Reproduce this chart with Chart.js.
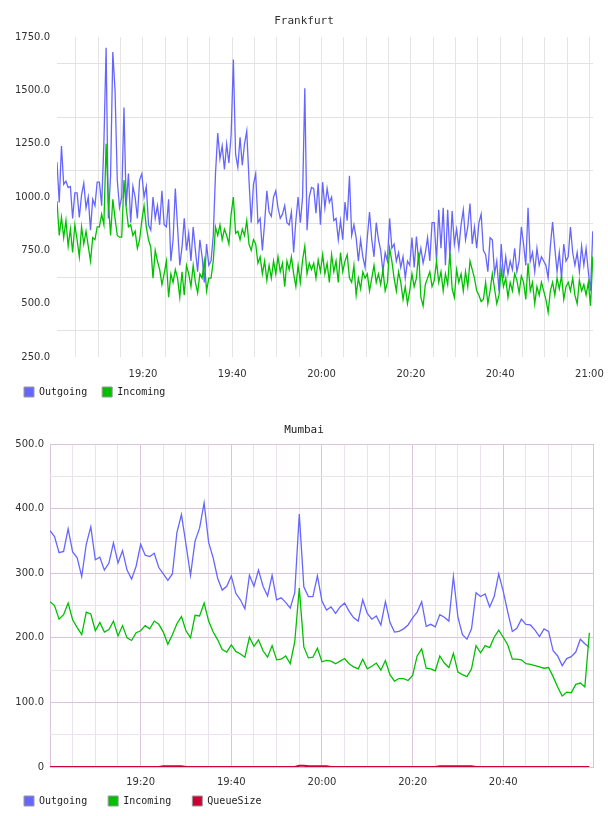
<!DOCTYPE html>
<html lang="en">
<head>
<meta charset="UTF-8">
<title>Frankfurt / Mumbai traffic</title>
<script src="https://cdn.jsdelivr.net/npm/chart.js"></script>
<style>
    body {
        margin: 0;
        background: #fff;
        overflow: hidden;
    }
    .box {
        position: absolute;
        left: 0;
        width: 608px;
    }
    #frankBox { top: 0; height: 415px; }
    #mumbaiBox { top: 408px; height: 421px; }
</style>
</head>
<body>
<div id="frankBox" class="box"><canvas id="frankChart" width="608" height="415"></canvas></div>
<div id="mumbaiBox" class="box"><canvas id="mumbaiChart" width="608" height="421"></canvas></div>

<script>
    // Frankfurt: one sample every 30 s, first one at 19:00:45
    const frankStart = 0.75;
    const frankStep = 0.5;
    const frankOut = [
        1164, 975, 1240, 1060, 1075, 1045, 1050, 900, 1020,
        1020, 905, 1010, 1065, 950, 1000, 845, 990, 960, 1070,
        1070, 960, 1250, 1700, 900, 1100, 1680, 1500, 1080, 950,
        1000, 1420, 960, 1110, 880, 1050, 1000, 900, 1080, 1110,
        1000, 1050, 870, 845, 1000, 900, 960, 870, 1030, 870,
        860, 990, 700, 800, 1040, 860, 680, 765, 900, 750,
        830, 700, 860, 750, 650, 800, 720, 600, 780, 680,
        700, 820, 1110, 1300, 1180, 1240, 1130, 1250, 1160, 1290,
        1645, 1200, 1140, 1280, 1150, 1250, 1310, 1080, 880, 1060,
        1110, 880, 900, 750, 880, 1030, 930, 910, 1000, 1030,
        950, 900, 920, 960, 880, 870, 930, 740, 890, 1000,
        880, 1000, 1510, 845, 1000, 1045, 1040, 925, 1065, 870,
        1070, 950, 1040, 975, 1000, 890, 900, 800, 890, 800,
        977, 890, 1100, 820, 870, 810, 700, 800, 720, 670,
        810, 930, 800, 720, 880, 800, 750, 650, 740, 700,
        900, 760, 780, 700, 740, 670, 720, 620, 700, 680,
        810, 670, 815, 700, 760, 690, 740, 810, 700, 880,
        880, 700, 940, 760, 950, 680, 940, 720, 935, 780,
        850, 760, 870, 940, 800, 860, 970, 780, 860, 760,
        880, 920, 750, 730, 650, 810, 800, 640, 700, 560,
        780, 620, 720, 640, 700, 660, 760, 650, 700, 860,
        780, 680, 950, 700, 740, 650, 760, 680, 720, 700,
        680, 620, 770, 883, 760, 650, 740, 620, 780, 700,
        720, 860, 740, 680, 740, 650, 770, 680, 760, 650,
        560, 840
    ];
    const frankIn = [
        980, 820, 905, 810, 890, 770, 850, 740, 870,
        800, 720, 860, 780, 840, 770, 700, 810, 800, 860,
        860, 920, 870, 1250, 980, 820, 990, 900, 820, 812,
        812, 1080, 950, 860, 870, 820, 840, 760, 800, 890,
        960, 860, 800, 765, 620, 750, 700, 660, 590, 640,
        700, 530, 640, 600, 660, 620, 530, 650, 540, 680,
        640, 580, 680, 600, 550, 640, 620, 700, 560, 620,
        620, 700, 860, 820, 870, 800, 850, 820, 780, 920,
        1000, 830, 840, 800, 850, 820, 890, 780, 750, 800,
        780, 690, 720, 640, 700, 610, 680, 620, 700, 640,
        720, 650, 690, 580, 700, 660, 720, 640, 580, 680,
        600, 705, 770, 640, 690, 660, 690, 620, 705, 650,
        730, 640, 690, 600, 730, 650, 700, 600, 740, 650,
        700, 730, 620, 600, 680, 540, 620, 570, 650, 620,
        640, 560, 620, 680, 600, 640, 590, 660, 560, 600,
        760, 700, 620, 560, 650, 600, 520, 580, 500, 560,
        640, 580, 620, 740, 530, 490, 590, 620, 650, 580,
        610, 700, 600, 650, 560, 640, 590, 740, 570, 530,
        660, 600, 640, 560, 650, 580, 700, 660, 620, 560,
        540, 510, 520, 600, 500, 560, 640, 570, 500, 540,
        660, 580, 620, 530, 600, 560, 640, 610, 550, 630,
        600, 520, 690, 560, 600, 500, 580, 540, 600, 560,
        520, 460, 560, 600, 540, 620, 570, 630, 520, 580,
        600, 560, 620, 540, 500, 610, 560, 590, 540, 600,
        490, 720
    ];

    // Mumbai: one sample per minute from 19:00
    const mumbaiOut = [
        366, 357, 332, 334, 369, 333, 324, 295, 345, 372,
        321, 325, 305, 316, 347, 316, 335, 305, 291, 311,
        345, 328, 326, 331, 309, 299, 289, 299, 363, 391,
        345, 297, 350, 370, 409, 348, 324, 292, 274, 280,
        296, 269, 259, 245, 297, 280, 305, 280, 265, 297,
        259, 262, 255, 246, 270, 392, 279, 264, 264, 296,
        257, 243, 248, 238, 248, 254, 241, 231, 226, 259,
        238, 229, 234, 220, 256, 224, 209, 210, 214, 220,
        231, 240, 256, 218, 221, 217, 236, 232, 226, 295,
        232, 205, 198, 214, 270, 264, 268, 248, 264, 299,
        272, 240, 210, 215, 229, 221, 220, 212, 202, 214,
        210, 180, 172, 157, 168, 171, 178, 198, 191, 185
    ];
    const mumbaiIn = [
        256, 250, 229, 236, 254, 228, 216, 205, 240, 237,
        211, 224, 209, 213, 226, 203, 219, 200, 196, 208,
        211, 219, 214, 226, 221, 209, 190, 205, 222, 233,
        211, 200, 235, 234, 254, 226, 209, 197, 182, 178,
        189, 179, 175, 170, 201, 187, 197, 180, 170, 188,
        166, 167, 172, 160, 194, 277, 186, 169, 170, 184,
        163, 165, 164, 160, 164, 168, 160, 155, 152, 167,
        152, 156, 161, 150, 165, 143, 133, 137, 137, 134,
        142, 172, 183, 153, 152, 149, 172, 161, 154, 176,
        147, 143, 140, 152, 188, 177, 188, 185, 201, 212,
        201, 189, 167, 167, 166, 160, 159, 157, 155, 153,
        154, 140, 124, 110, 116, 115, 128, 130, 124, 208
    ];
    const mumbaiQueue = [
        0, 0, 0, 0, 0, 0, 0, 0, 0, 0,
        0, 0, 0, 0, 0, 0, 0, 0, 0, 0,
        0, 0, 0, 0, 0, 1, 1, 1, 1, 1,
        0, 0, 0, 0, 0, 0, 0, 0, 0, 0,
        0, 0, 0, 0, 0, 0, 0, 0, 0, 0,
        0, 0, 0, 0, 0, 2, 2, 1, 1, 1,
        1, 1, 0, 0, 0, 0, 0, 0, 0, 0,
        0, 0, 0, 0, 0, 0, 0, 0, 0, 0,
        0, 0, 0, 0, 0, 0, 1, 1, 1, 1,
        1, 1, 1, 1, 0, 0, 0, 0, 0, 0,
        0, 0, 0, 0, 0, 0, 0, 0, 0, 0,
        0, 0, 0, 0, 0, 0, 0, 0, 0, 0
    ];

    // axes: minutes after 19:00
    const gridMinutes = [0, 5, 10, 15, 20, 25, 30, 35, 40, 45, 50, 55, 60, 65, 70, 75, 80, 85, 90, 95, 100, 105, 110, 115, 120];
    const labelMinutes = [20, 40, 60, 80, 100, 120];
    const timeLabels = ['19:20', '19:40', '20:00', '20:20', '20:40', '21:00'];
    const frankYTicks = [250, 375, 500, 625, 750, 875, 1000, 1125, 1250, 1375, 1500, 1625, 1750];
    const mumbaiYTicks = [0, 50, 100, 150, 200, 250, 300, 350, 400, 450, 500];

    const colors = { out: '#6666ff', in: '#00c000', queue: '#cc0033' };
    const tickFont = { family: 'DejaVu Sans', size: 10 };
    const monoFont = { family: 'DejaVu Sans Mono', size: 10 };

    function timeLabel(value) {
        const i = labelMinutes.indexOf(value);
        return i >= 0 ? timeLabels[i] : '';
    }

    function legendLabels(chart) {
        return chart.data.datasets.map((ds, i) => ({
            text: ds.label,
            fillStyle: ds.borderColor,
            strokeStyle: '#999',
            lineWidth: 1,
            fontColor: '#222',
            datasetIndex: i,
            hidden: false
        }));
    }

    function series(values, times) {
        return values.map((v, i) => ({ x: times[i], y: v }));
    }

    // fixed axis size, and no extra room for a label hanging over the edge
    function fixHeight(h) {
        return axis => {
            axis.height = h;
            axis.paddingLeft = 0;
            axis.paddingRight = 0;
        };
    }

    // move the legend box a little after layout (it sits tight under the time labels)
    const legendShift = {
        id: 'legendShift',
        afterLayout(chart, args, opts) {
            const lg = chart.legend;
            if (!lg) return;
            lg.left += opts.x || 0;
            lg.right += opts.x || 0;
            lg.top += opts.y || 0;
            lg.bottom += opts.y || 0;
        }
    };

    Chart.defaults.font.family = 'DejaVu Sans';
    Chart.defaults.color = '#333';

    const frankTimes = frankOut.map((_, i) => frankStart + i * frankStep);
    const mumbaiTimes = mumbaiOut.map((_, i) => i);

    new Chart(document.getElementById('frankChart'), {
        type: 'line',
        plugins: [legendShift],
        data: {
            datasets: [
                { label: 'Outgoing', data: series(frankOut, frankTimes), borderColor: colors.out, borderWidth: 1.3, pointRadius: 0, order: 2 },
                { label: 'Incoming', data: series(frankIn, frankTimes), borderColor: colors.in, borderWidth: 1.3, pointRadius: 0, order: 1 }
            ]
        },
        options: {
            responsive: false,
            animation: false,
            layout: { autoPadding: false, padding: 0 },
            plugins: {
                title: {
                    display: true,
                    text: 'Frankfurt',
                    color: '#333',
                    font: { family: 'DejaVu Sans Mono', size: 11, weight: 'normal' },
                    padding: { top: 15, bottom: 9 }
                },
                legend: {
                    position: 'bottom',
                    align: 'start',
                    labels: { boxWidth: 10, boxHeight: 10, padding: 15, font: monoFont, color: '#222', generateLabels: legendLabels }
                },
                legendShift: { x: 9, y: -8 },
                tooltip: { enabled: false }
            },
            scales: {
                x: {
                    type: 'linear',
                    min: frankStart,
                    max: 120.8,
                    afterBuildTicks: axis => { axis.ticks = gridMinutes.filter(m => m > 0).map(m => ({ value: m })); },
                    afterFit: fixHeight(23),
                    grid: { color: '#e4e4e4', drawTicks: false },
                    border: { display: false },
                    ticks: { padding: 11, autoSkip: false, maxRotation: 0, font: tickFont, color: '#333', callback: timeLabel }
                },
                y: {
                    min: 250,
                    max: 1750,
                    afterBuildTicks: axis => { axis.ticks = frankYTicks.map(v => ({ value: v })); },
                    afterFit: axis => { axis.width = 57; },
                    grid: { drawTicks: false, color: ctx => (ctx.tick.value % 250 === 0 ? 'rgba(0,0,0,0)' : '#e2e2e2') },
                    border: { display: false },
                    ticks: { padding: 7, font: tickFont, color: '#333', callback: v => (v % 250 === 0 ? v.toFixed(1) : '') }
                },
                yRight: {
                    type: 'linear',
                    axis: 'y',
                    position: 'right',
                    afterFit: axis => { axis.width = 15; },
                    grid: { display: false, drawTicks: false },
                    border: { display: false },
                    ticks: { display: false }
                }
            }
        }
    });

    const purpleMajor = '#dcc4dc';
    const purpleMinor = '#ebe3eb';

    new Chart(document.getElementById('mumbaiChart'), {
        type: 'line',
        plugins: [legendShift],
        data: {
            datasets: [
                { label: 'Outgoing', data: series(mumbaiOut, mumbaiTimes), borderColor: colors.out, borderWidth: 1.3, pointRadius: 0, order: 3 },
                { label: 'Incoming', data: series(mumbaiIn, mumbaiTimes), borderColor: colors.in, borderWidth: 1.3, pointRadius: 0, order: 2 },
                { label: 'QueueSize', data: series(mumbaiQueue, mumbaiTimes), borderColor: colors.queue, borderWidth: 2, pointRadius: 0, order: 1 }
            ]
        },
        options: {
            responsive: false,
            animation: false,
            layout: { autoPadding: false, padding: 0 },
            plugins: {
                title: {
                    display: true,
                    text: 'Mumbai',
                    color: '#222',
                    font: { family: 'DejaVu Sans Mono', size: 11, weight: 'normal' },
                    padding: { top: 16, bottom: 7 }
                },
                legend: {
                    position: 'bottom',
                    align: 'start',
                    labels: { boxWidth: 10, boxHeight: 10, padding: 21, font: monoFont, color: '#222', generateLabels: legendLabels }
                },
                legendShift: { x: 3, y: -13 },
                tooltip: { enabled: false }
            },
            scales: {
                x: {
                    type: 'linear',
                    min: 0,
                    max: 119.8,
                    afterBuildTicks: axis => { axis.ticks = gridMinutes.filter(m => m < 120).map(m => ({ value: m })); },
                    afterFit: fixHeight(21),
                    grid: { drawTicks: false, color: ctx => (ctx.tick.value % 20 === 0 ? purpleMajor : purpleMinor) },
                    border: { display: false },
                    ticks: { padding: 9, autoSkip: false, maxRotation: 0, font: tickFont, color: '#333', callback: timeLabel }
                },
                y: {
                    min: 0,
                    max: 500,
                    afterBuildTicks: axis => { axis.ticks = mumbaiYTicks.map(v => ({ value: v })); },
                    afterFit: axis => { axis.width = 50; },
                    grid: { drawTicks: false, color: ctx => (ctx.tick.value % 100 === 0 ? purpleMajor : purpleMinor) },
                    border: { display: false },
                    ticks: { padding: 6, font: tickFont, color: '#333', callback: v => (v === 0 ? '0' : v % 100 === 0 ? v.toFixed(1) : '') }
                },
                yRight: {
                    type: 'linear',
                    axis: 'y',
                    position: 'right',
                    afterFit: axis => { axis.width = 15; },
                    grid: { display: false, drawTicks: false },
                    border: { display: true, color: purpleMajor },
                    ticks: { display: false }
                }
            }
        }
    });
</script>
</body>
</html>
